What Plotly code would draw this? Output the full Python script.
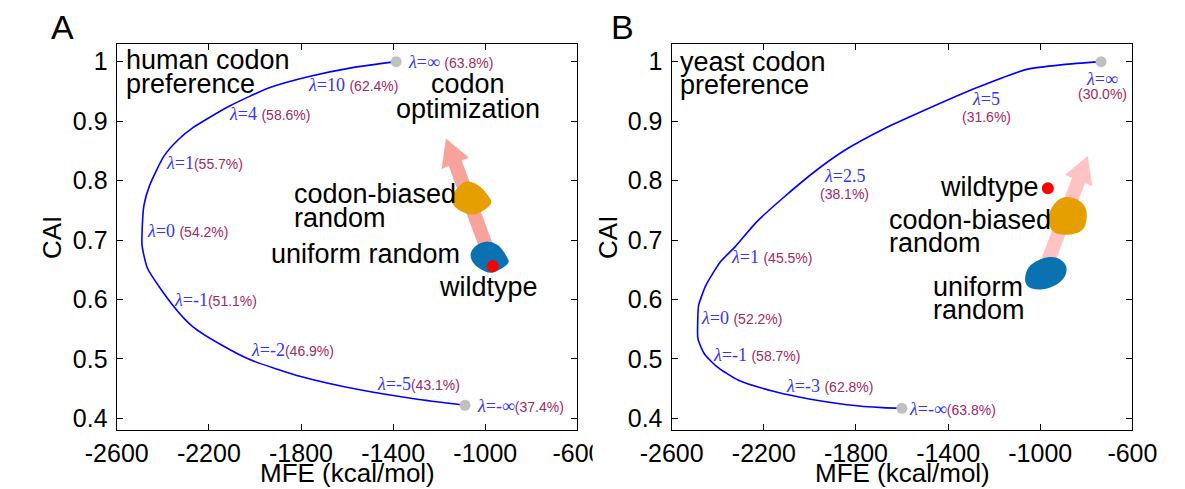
import math
import plotly.graph_objects as go

# ---------------- data ----------------
X_RANGE = [-2600, -600]
Y_RANGE = [0.38, 1.03]
x_ticks = [-2600, -2200, -1800, -1400, -1000, -600]
x_tick_text = ["-2600", "-2200", "-1800", "-1400", "-1000", "-600"]
y_ticks = [0.4, 0.5, 0.6, 0.7, 0.8, 0.9, 1.0]
y_tick_text = ["0.4", "0.5", "0.6", "0.7", "0.8", "0.9", "1"]

# Panel A: human codon preference
human_curve_mfe = [-1387, -1576, -1765, -1938, -2112, -2269, -2332, -2395, -2458, -2482, -2490,
                   -2490, -2466, -2356, -2269, -2143, -2017, -1797, -1545, -1309, -1088]
human_curve_cai = [1.000, 0.990, 0.975, 0.956, 0.925, 0.889, 0.869, 0.841, 0.791, 0.758, 0.713,
                   0.691, 0.652, 0.590, 0.554, 0.523, 0.498, 0.470, 0.448, 0.433, 0.422]
human_end_mfe = [-1387, -1088]
human_end_cai = [1.000, 0.422]
human_lambda = ["∞", "10", "4", "1", "0", "-1", "-2", "-5", "-∞"]
human_pct = ["63.8", "62.4", "58.6", "55.7", "54.2", "51.1", "46.9", "43.1", "37.4"]
human_gap = [True, True, True, False, True, False, False, False, False]
human_label_mfe = [-1340, -1773, -2116, -2392, -2474, -2356, -2020, -1474, -1041]
human_label_cai = [1.000, 0.960, 0.912, 0.830, 0.715, 0.599, 0.515, 0.458, 0.420]
human_wildtype = (-968, 0.656)
human_biased_mfe = [-1143, -1115, -1081, -1033, -991, -977, -1005, -1053, -1102, -1136]
human_biased_cai = [0.772, 0.788, 0.797, 0.791, 0.774, 0.763, 0.752, 0.744, 0.749, 0.760]
human_uniform_mfe = [-1060, -1033, -998, -950, -909, -902, -936, -978, -1026, -1054]
human_uniform_cai = [0.677, 0.691, 0.696, 0.691, 0.671, 0.663, 0.652, 0.646, 0.654, 0.665]
human_arrow = [(-984, 0.677), (-1170, 0.870)]

# Panel B: yeast codon preference
yeast_curve_mfe = [-736, -901, -1058, -1277, -1527, -1684, -1840, -1966, -2122, -2232, -2326, -2389,
                   -2451, -2483, -2487, -2486, -2459, -2404, -2310, -2154, -1997, -1840, -1684, -1601]
yeast_curve_cai = [1.000, 0.995, 0.987, 0.956, 0.914, 0.886, 0.853, 0.819, 0.769, 0.730, 0.688, 0.663,
                   0.624, 0.590, 0.562, 0.534, 0.509, 0.487, 0.464, 0.445, 0.432, 0.423, 0.418, 0.417]
yeast_end_mfe = [-736, -1601]
yeast_end_cai = [1.000, 0.417]
yeast_inline_lambda = ["1", "0", "-1", "-3", "-∞"]
yeast_inline_pct = ["45.5", "52.2", "58.7", "62.8", "63.8"]
yeast_inline_gap = [True, True, True, True, False]
yeast_inline_mfe = [-2345, -2479, -2423, -2110, -1574]
yeast_inline_cai = [0.671, 0.568, 0.506, 0.455, 0.416]
yeast_stack_lambda = ["∞", "5", "2.5"]
yeast_stack_pct = ["30.0", "31.6", "38.1"]
yeast_stack_mfe = [-731, -1234, -1850]
yeast_stack_cai_top = [0.971, 0.937, 0.808]
yeast_stack_cai_bot = [0.946, 0.907, 0.778]
yeast_wildtype = (-967, 0.787)
yeast_biased_mfe = [-960, -936, -889, -825, -802, -817, -889, -944]
yeast_biased_cai = [0.735, 0.760, 0.771, 0.763, 0.747, 0.719, 0.710, 0.716]
yeast_uniform_mfe = [-1062, -1039, -960, -904, -889, -920, -999, -1054]
yeast_uniform_cai = [0.638, 0.657, 0.670, 0.663, 0.649, 0.629, 0.618, 0.624]
yeast_arrow = [(-976, 0.655), (-794, 0.841)]

# ---------------- style ----------------
W, H = 1185, 489
LEFT_DOM = [89 / W, 573 / W]
RIGHT_DOM = [672 / W, 1156 / W]
Y_DOM = [(H - 432) / H, (H - 44) / H]
PLOT_W = 484
PLOT_H = 388
BLUE_LINE = "#0000ff"
LAMBDA_C = "#3333ff"
PCT_C = "#a3285f"
GRAY = "#c0c0c0"
ORANGE = "#e69f00"
SKY = "#0a72b0"
SANS = "Liberation Sans, Arial, sans-serif"
SERIF = "Liberation Serif, Times New Roman, serif"

fig = go.Figure()


def arrow_traces(start, tip, color, xa, ya, shaft_w=14, head_w=30, head_l=26):
    kx = PLOT_W / (X_RANGE[1] - X_RANGE[0])
    ky = PLOT_H / (Y_RANGE[1] - Y_RANGE[0])
    sx, sy = start[0] * kx, start[1] * ky
    tx, ty = tip[0] * kx, tip[1] * ky
    dx, dy = tx - sx, ty - sy
    L = math.hypot(dx, dy)
    ux, uy = dx / L, dy / L
    nx, ny = -uy, ux
    bx, by = tx - head_l * ux, ty - head_l * uy
    c1 = ((bx + nx * head_w / 2) / kx, (by + ny * head_w / 2) / ky)
    c2 = ((bx - nx * head_w / 2) / kx, (by - ny * head_w / 2) / ky)
    base = ((bx + ux * 2) / kx, (by + uy * 2) / ky)
    fig.add_trace(go.Scatter(x=[start[0], base[0]], y=[start[1], base[1]], mode="lines",
                             line=dict(color=color, width=shaft_w), xaxis=xa, yaxis=ya,
                             hoverinfo="skip"))
    fig.add_trace(go.Scatter(x=[tip[0], c1[0], c2[0], tip[0]], y=[tip[1], c1[1], c2[1], tip[1]],
                             mode="lines", fill="toself", fillcolor=color,
                             line=dict(color=color, width=0.5), xaxis=xa, yaxis=ya,
                             hoverinfo="skip"))


def blob(xs, ys, color, xa, ya):
    fig.add_trace(go.Scatter(x=xs + xs[:1], y=ys + ys[:1], mode="lines", fill="toself",
                             fillcolor=color, line=dict(color=color, width=1.5, shape="spline"),
                             xaxis=xa, yaxis=ya, hoverinfo="skip"))


def panel(xa, ya, cx, cy, ex, ey, arrow, acolor, bx_, by_, ux_, uy_, wt):
    fig.add_trace(go.Scatter(x=cx, y=cy, mode="lines",
                             line=dict(color=BLUE_LINE, width=1.6, shape="spline", smoothing=0.6),
                             xaxis=xa, yaxis=ya, hoverinfo="skip"))
    arrow_traces(arrow[0], arrow[1], acolor, xa, ya)
    blob(bx_, by_, ORANGE, xa, ya)
    blob(ux_, uy_, SKY, xa, ya)
    fig.add_trace(go.Scatter(x=[wt[0]], y=[wt[1]], mode="markers",
                             marker=dict(color="#ff0000", size=12, line=dict(width=0)),
                             xaxis=xa, yaxis=ya, hoverinfo="skip"))
    fig.add_trace(go.Scatter(x=ex, y=ey, mode="markers",
                             marker=dict(color=GRAY, size=11, line=dict(width=0)),
                             xaxis=xa, yaxis=ya, hoverinfo="skip"))


panel("x", "y", human_curve_mfe, human_curve_cai, human_end_mfe, human_end_cai,
      human_arrow, "#f7a39b", human_biased_mfe, human_biased_cai,
      human_uniform_mfe, human_uniform_cai, human_wildtype)
panel("x2", "y2", yeast_curve_mfe, yeast_curve_cai, yeast_end_mfe, yeast_end_cai,
      yeast_arrow, "#ffc2c2", yeast_biased_mfe, yeast_biased_cai,
      yeast_uniform_mfe, yeast_uniform_cai, yeast_wildtype)


def pct(p):
    return ('<span style="font-family:Liberation Sans;color:%s;font-size:14px">(%s%%)</span>'
            % (PCT_C, p))


def lam(v):
    return "<i>λ</i>=%s" % v


ann = []


def add_ann(text, x, y, xref, yref, size=18, color=LAMBDA_C, xanchor="left", yanchor="middle",
            family=SERIF, angle=0):
    ann.append(dict(text=text, x=x, y=y, xref=xref, yref=yref, showarrow=False,
                    xanchor=xanchor, yanchor=yanchor, textangle=angle,
                    font=dict(size=size, color=color, family=family), borderpad=0))


for v, p, g, x, y in zip(human_lambda, human_pct, human_gap, human_label_mfe, human_label_cai):
    add_ann(lam(v) + (" " if g else "") + pct(p), x, y, "x", "y")
for v, p, g, x, y in zip(yeast_inline_lambda, yeast_inline_pct, yeast_inline_gap,
                         yeast_inline_mfe, yeast_inline_cai):
    add_ann(lam(v) + (" " if g else "") + pct(p), x, y, "x2", "y2")
for v, p, x, yt, yb in zip(yeast_stack_lambda, yeast_stack_pct, yeast_stack_mfe,
                           yeast_stack_cai_top, yeast_stack_cai_bot):
    add_ann(lam(v), x, yt, "x2", "y2", xanchor="center")
    add_ann("(%s%%)" % p, x, yb, "x2", "y2", size=14, color=PCT_C, family=SANS,
            xanchor="center")

BIG = 27
# panel A text labels
add_ann("human codon", -2566, 1.003, "x", "y", BIG, "black", family=SANS)
add_ann("preference", -2566, 0.962, "x", "y", BIG, "black", family=SANS)
add_ann("codon", -1073, 0.963, "x", "y", BIG, "black", xanchor="center", family=SANS)
add_ann("optimization", -1073, 0.921, "x", "y", BIG, "black", xanchor="center", family=SANS)
add_ann("codon-biased", -1836, 0.777, "x", "y", BIG, "black", family=SANS)
add_ann("random", -1836, 0.737, "x", "y", BIG, "black", family=SANS)
add_ann("uniform random", -1104, 0.677, "x", "y", BIG, "black", xanchor="right", family=SANS)
add_ann("wildtype", -984, 0.621, "x", "y", BIG, "black", xanchor="center", family=SANS)
# panel B text labels
add_ann("yeast codon", -2568, 0.999, "x2", "y2", BIG, "black", family=SANS)
add_ann("preference", -2568, 0.960, "x2", "y2", BIG, "black", family=SANS)
add_ann("wildtype", -1002, 0.789, "x2", "y2", BIG, "black", xanchor="right", family=SANS)
add_ann("codon-biased", -1662, 0.734, "x2", "y2", BIG, "black", family=SANS)
add_ann("random", -1662, 0.695, "x2", "y2", BIG, "black", family=SANS)
add_ann("uniform", -1472, 0.621, "x2", "y2", BIG, "black", family=SANS)
add_ann("random", -1472, 0.583, "x2", "y2", BIG, "black", family=SANS)

# axis titles & panel letters
for cx_px in (331, 914):
    add_ann("MFE (kcal/mol)", cx_px / W, (H - 475) / H, "paper", "paper", 26, "black",
            xanchor="center", family=SANS)
for cx_px in (21, 605):
    add_ann("CAI", cx_px / W, (H - 238) / H, "paper", "paper", 26, "black",
            xanchor="center", angle=-90, family=SANS)
add_ann("A", 32 / W, (H - 27.5) / H, "paper", "paper", 34, "black", xanchor="center",
        family=SANS)
add_ann("B", 620 / W, (H - 27) / H, "paper", "paper", 34, "black", xanchor="center",
        family=SANS)

axis_common = dict(showline=True, linecolor="black", linewidth=1.3, mirror="ticks",
                   ticks="inside", ticklen=6, tickwidth=1, tickcolor="black",
                   showgrid=False, zeroline=False,
                   tickfont=dict(size=25, color="black", family=SANS))

fig.update_layout(
    width=W, height=H, margin=dict(l=0, r=0, t=0, b=0),
    paper_bgcolor="white", plot_bgcolor="white", showlegend=False,
    xaxis=dict(domain=LEFT_DOM, range=X_RANGE, tickvals=x_ticks, ticktext=x_tick_text,
               anchor="y", ticklabelstandoff=1, **axis_common),
    yaxis=dict(domain=Y_DOM, range=Y_RANGE, tickvals=y_ticks, ticktext=y_tick_text,
               anchor="x", ticklabelstandoff=3, **axis_common),
    xaxis2=dict(domain=RIGHT_DOM, range=X_RANGE, tickvals=x_ticks, ticktext=x_tick_text,
                anchor="y2", ticklabelstandoff=1, **axis_common),
    yaxis2=dict(domain=Y_DOM, range=Y_RANGE, tickvals=y_ticks, ticktext=y_tick_text,
                anchor="x2", ticklabelstandoff=3, **axis_common),
    annotations=ann,
    shapes=[dict(type="rect", xref="paper", yref="paper", x0=589 / W, x1=606 / W,
                 y0=(H - 474) / H, y1=(H - 434) / H, fillcolor="white",
                 line=dict(width=0), layer="above")],
)

fig.write_html("out.html")
